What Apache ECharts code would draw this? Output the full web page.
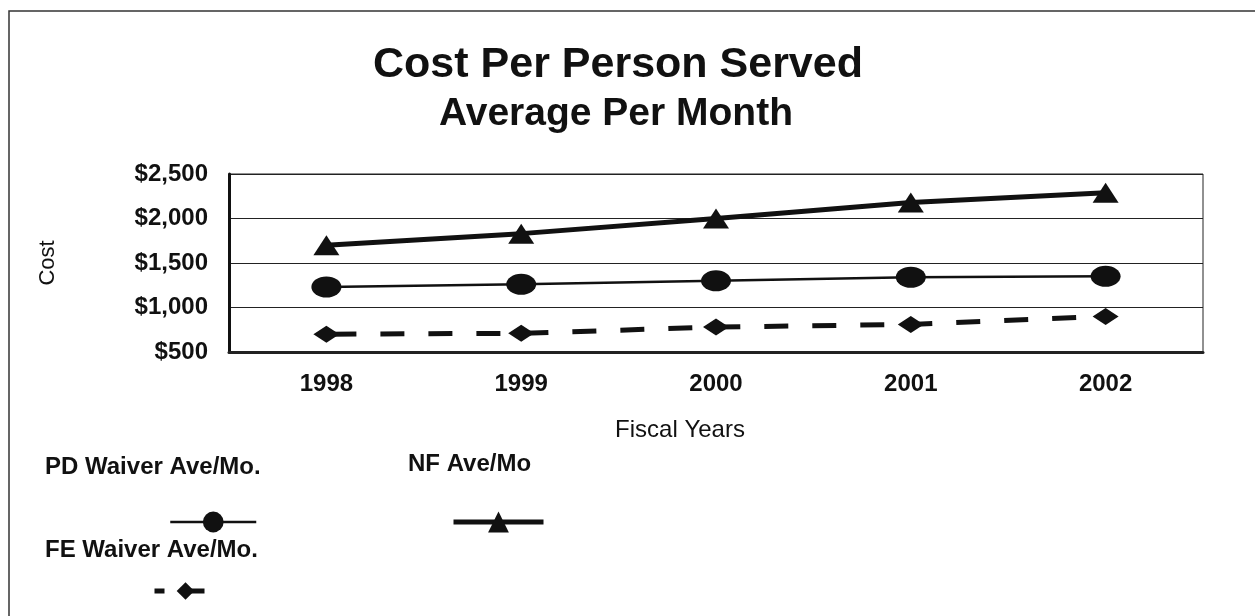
<!DOCTYPE html>
<html>
<head>
<meta charset="utf-8">
<title>Cost Per Person Served</title>
<script src="https://cdn.jsdelivr.net/npm/echarts@6/dist/echarts.min.js"></script>
<style>
  html, body { margin: 0; padding: 0; background: #fff; }
  #chart { width: 1255px; height: 616px; }
</style>
</head>
<body>
<div id="chart"></div>
<script>
var years = ['1998', '1999', '2000', '2001', '2002'];
var pdWaiver = [1230, 1260, 1300, 1340, 1350];
var nfAve = [1700, 1830, 2000, 2180, 2290];
var feWaiver = [700, 710, 780, 810, 900];

var font = '"Liberation Sans", Arial, sans-serif';
var ink = '#111';
// ellipse marker, stretched to symbolSize
var ellipse = 'path://M0,10a10,10 0 1,0 20,0a10,10 0 1,0 -20,0z';

var chart = echarts.init(document.getElementById('chart'));

var option = {
  backgroundColor: '#fff',
  animation: false,
  textStyle: { fontFamily: font, color: ink },
  title: [
    {
      text: 'Cost Per Person Served',
      left: 613, top: 39, textAlign: 'center',
      textStyle: { fontFamily: font, fontSize: 43, fontWeight: 'bold', color: ink }
    },
    {
      text: 'Average Per Month',
      left: 611, top: 90, textAlign: 'center',
      textStyle: { fontFamily: font, fontSize: 39, fontWeight: 'bold', color: ink }
    }
  ],
  legend: [
    {
      data: ['PD Waiver Ave/Mo.'], left: 164, top: 504,
      itemWidth: 86, itemHeight: 26, formatter: function () { return ''; },
      lineStyle: { width: 2.5 }
    },
    {
      data: ['NF Ave/Mo'], left: 446, top: 504,
      itemWidth: 90, itemHeight: 26, formatter: function () { return ''; },
      lineStyle: { width: 5 }
    },
    {
      // short dash, then the diamond on a stub of line
      data: ['FE Waiver Ave/Mo.'], left: 141, top: 575,
      itemWidth: 74, itemHeight: 22, formatter: function () { return ''; },
      lineStyle: { width: 5, type: [10, 18, 22, 100] }
    }
  ],
  grid: {
    left: 229, right: 52, top: 174, bottom: 264,
    show: true, borderColor: '#222', borderWidth: 1
  },
  xAxis: {
    type: 'category',
    data: years,
    boundaryGap: true,
    name: 'Fiscal Years',
    nameLocation: 'middle',
    nameGap: 66,
    nameTextStyle: { fontFamily: font, fontSize: 24, color: ink, padding: [0, 72, 0, 0] },
    axisLine: { show: true, lineStyle: { color: '#222', width: 3 } },
    axisTick: { show: false },
    axisLabel: { margin: 20, fontFamily: font, fontSize: 24, fontWeight: 'bold', color: ink }
  },
  yAxis: {
    type: 'value',
    min: 500, max: 2500, interval: 500,
    name: 'Cost',
    nameLocation: 'middle',
    nameGap: 170,
    nameTextStyle: { fontFamily: font, fontSize: 22, color: ink },
    axisLine: { show: true, lineStyle: { color: '#111', width: 3 } },
    axisTick: { show: false },
    splitLine: { show: true, lineStyle: { color: '#222', width: 1 } },
    axisLabel: {
      margin: 21, fontFamily: font, fontSize: 24, fontWeight: 'bold', color: ink,
      formatter: function (v) { return '$' + v.toLocaleString('en-US'); }
    }
  },
  series: [
    {
      name: 'PD Waiver Ave/Mo.', type: 'line', data: pdWaiver,
      symbol: ellipse, symbolSize: [30, 21],
      lineStyle: { color: ink, width: 2.5 },
      itemStyle: { color: ink }
    },
    {
      name: 'NF Ave/Mo', type: 'line', data: nfAve,
      symbol: 'triangle', symbolSize: [26, 20],
      lineStyle: { color: ink, width: 5 },
      itemStyle: { color: ink }
    },
    {
      name: 'FE Waiver Ave/Mo.', type: 'line', data: feWaiver,
      symbol: 'diamond', symbolSize: [26, 17],
      lineStyle: { color: ink, width: 5, type: [24, 24], dashOffset: -6 },
      itemStyle: { color: ink }
    }
  ],
  graphic: [
    {
      type: 'rect', silent: true, z: -1,
      shape: { x: 9, y: 11, width: 1300, height: 700 },
      style: { fill: 'none', stroke: '#333', lineWidth: 1.5 }
    },
    {
      type: 'text', left: 45, top: 455,
      style: { text: 'PD Waiver Ave/Mo.', font: 'bold 24px ' + font, fill: ink }
    },
    {
      type: 'text', left: 408, top: 452,
      style: { text: 'NF Ave/Mo', font: 'bold 24px ' + font, fill: ink }
    },
    {
      type: 'text', left: 45, top: 538,
      style: { text: 'FE Waiver Ave/Mo.', font: 'bold 24px ' + font, fill: ink }
    }
  ]
};

chart.setOption(option);
</script>
</body>
</html>
